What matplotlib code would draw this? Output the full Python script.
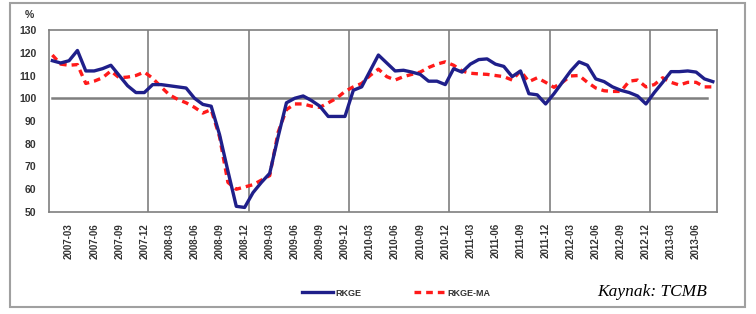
import matplotlib
matplotlib.use("Agg")
import matplotlib.pyplot as plt
from matplotlib.patches import Rectangle

# monthly, 2007-01 .. 2013-08
months = [f"{y}-{m:02d}" for y in range(2007, 2014) for m in range(1, 13)][:80]

rkge = [116.5, 115.5, 116.5, 121, 112, 112, 113, 114.5, 110, 105.5, 102.5, 102.5,
        106, 106, 105.5, 105, 104.5, 100, 97.3, 96.5, 84, 68, 52.5, 52,
        58.5, 63, 67, 83, 98, 100, 101, 99, 96.5, 92, 92, 92,
        103.5, 105, 112, 119, 115.5, 112, 112.3, 111.5, 110.5, 107.5, 107.5, 106,
        113, 111.5, 115, 117, 117.3, 115, 114, 109.5, 112, 102, 101.5, 97.5,
        102, 107, 112, 116, 114.5, 108.5, 107.3, 105, 103.5, 102.5, 101, 97.5,
        102.5, 107, 111.7, 111.7, 112, 111.5, 108.5, 107.3]

rkge_ma = [119, 115, 114.5, 114.8, 106.5, 107.5, 109, 112, 109, 109.3, 110, 111.5,
           108.8, 105, 101.5, 99.5, 98, 96, 93.5, 95, 83, 63, 60, 61,
           62, 64, 66, 85, 95, 97.5, 97.5, 96.5, 96, 98, 100, 103,
           105, 106.5, 110, 112.8, 109.5, 108, 109.5, 110.5, 111.5, 113.5, 115, 116,
           114.5, 112, 111, 110.7, 110.5, 110, 109.5, 108, 112, 107.3, 109, 107,
           104.8, 107, 109.8, 110, 107, 104.5, 103.3, 103, 103, 107.5, 108, 105,
           106, 109, 107, 105.8, 107, 107, 105, 105]

yticks = [50, 60, 70, 80, 90, 100, 110, 120, 130]

fig = plt.figure(figsize=(7.56, 3.14), dpi=100)
fig.patches.append(Rectangle((10 / 756, 7 / 314), 735 / 756, 304 / 314,
                             transform=fig.transFigure, fill=False,
                             edgecolor="#a0a0a0", linewidth=1.5))

ax = fig.add_axes([49 / 756, 1 - 212 / 314, 668 / 756, 182 / 314])
x = list(range(len(months)))

# year separators and 100 line
for k in range(11, len(months) - 1, 12):
    ax.axvline(k + 0.5, color="#7f7f7f", lw=1.2, zorder=1)
ax.axhline(100, xmin=0.005, xmax=0.985, color="#7f7f7f", lw=1.8, zorder=1)

ax.plot(x, rkge, color="#1f1f8a", lw=2.4, label="RKGE", zorder=3)
ax.plot(x, rkge_ma, color="#ff1a1a", lw=2.4, ls=(0, (2.0, 1.5)),
        label="RKGE-MA", zorder=2)

ax.set_xlim(-0.4, 79.5)
ax.set_ylim(50, 130)
ax.set_yticks(yticks)
ax.set_yticklabels([str(v) for v in yticks], fontsize=7.5, fontweight="bold",
                   family="Liberation Sans", color="#333333")
tick_idx = list(range(2, len(months), 3))
ax.set_xticks(tick_idx)
ax.set_xticklabels([months[i] for i in tick_idx], rotation=90, fontsize=7,
                   fontweight="bold", family="Liberation Sans", color="#333333")
ax.tick_params(length=0, pad=9)
ax.tick_params(axis="x", pad=8)
for s in ax.spines.values():
    s.set_color("#7f7f7f")
    s.set_linewidth(1.2)

fig.text(25 / 756, 1 - 15 / 314, "%", fontsize=7.5, fontweight="bold",
         family="Liberation Sans", color="#333333", va="center")

leg = fig.legend(loc="center", bbox_to_anchor=(396 / 756, 1 - 293 / 314), ncol=2,
                 frameon=False, columnspacing=5.8, handlelength=3.4,
                 handletextpad=0.3,
                 prop={"size": 6.5, "weight": "bold", "family": "Liberation Sans"})
for t in leg.get_texts():
    t.set_color("#333333")

fig.text(652 / 756, 1 - 292 / 314, "Kaynak: TCMB", fontsize=12.5,
         style="italic", family="Liberation Serif", ha="center", va="center")

fig.savefig("out.png", dpi=100)
